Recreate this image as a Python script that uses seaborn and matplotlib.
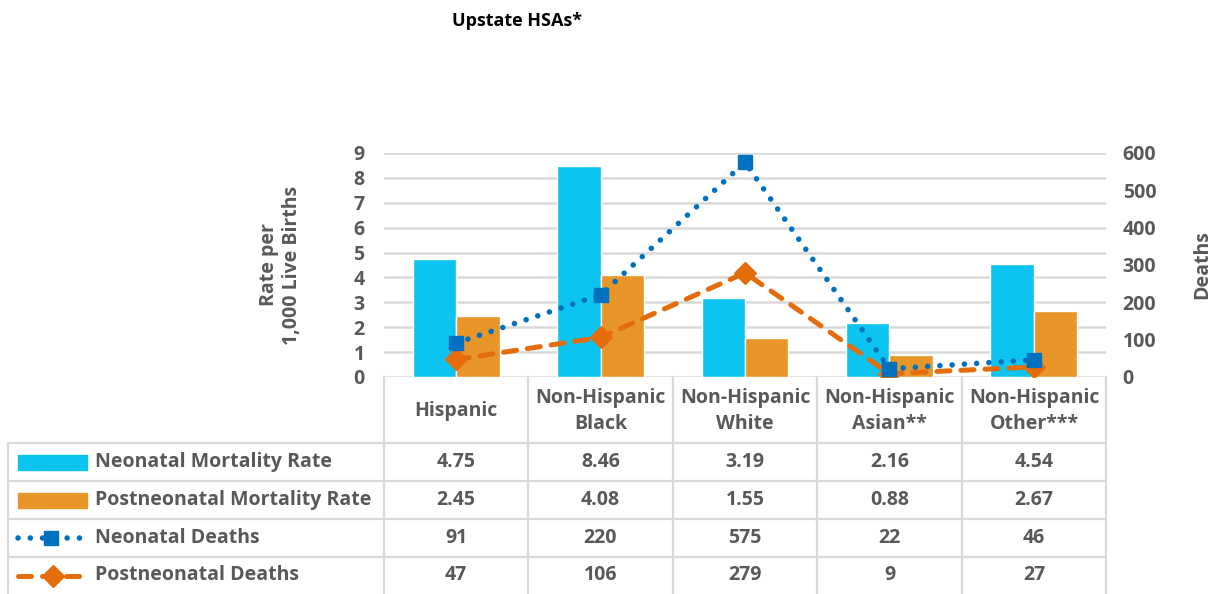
import numpy as np
import pandas as pd
import matplotlib
matplotlib.use("Agg")
import matplotlib.pyplot as plt
import seaborn as sns
from matplotlib.lines import Line2D
from matplotlib.patches import Rectangle

categories = ["Hispanic", "Non-Hispanic\nBlack", "Non-Hispanic\nWhite", "Non-Hispanic\nAsian**", "Non-Hispanic\nOther***"]
neonatal_rate = [4.75, 8.46, 3.19, 2.16, 4.54]
postneonatal_rate = [2.45, 4.08, 1.55, 0.88, 2.67]
neonatal_deaths = [91, 220, 575, 22, 46]
postneonatal_deaths = [47, 106, 279, 9, 27]
series_names = ["Neonatal Mortality Rate", "Postneonatal Mortality Rate", "Neonatal Deaths", "Postneonatal Deaths"]
left_ticks = list(range(0, 10))
right_ticks = list(range(0, 601, 100))

C_NEO = "#0DC3F0"
C_POST = "#E8962A"
C_NEO_L = "#0070C0"
C_POST_L = "#E46C0A"
GRID = "#D9D9D9"
TXT = "#595959"

sns.set_theme(style="white")
plt.rcParams['font.family'] = ['Open Sans', 'DejaVu Sans']

FS = 14

W, H = 1222, 594
fig = plt.figure(figsize=(W / 100, H / 100), dpi=100)

def fx(x):
    return x / W

def fy(y):
    return 1 - y / H

L, R, T, B = 384, 1106, 153, 377
ax = fig.add_axes([fx(L), fy(B), fx(R) - fx(L), fy(T) - fy(B)])

df = pd.DataFrame({
    "cat": categories * 2,
    "rate": neonatal_rate + postneonatal_rate,
    "series": [series_names[0]] * 5 + [series_names[1]] * 5,
})
sns.barplot(data=df, x="cat", y="rate", hue="series", palette=[C_NEO, C_POST],
            width=0.6, ax=ax, legend=False, saturation=1, zorder=2)
ax.set_xlim(-0.5, 4.5)
ax.set_ylim(0, 9)
ax.set_yticks(left_ticks)
ax.set_yticklabels([str(t) for t in left_ticks], fontsize=FS, fontweight="bold", color=TXT)
ax.tick_params(axis="y", length=0, pad=14)
ax.set_xticks([])
ax.set_xlabel("")
ax.set_ylabel("Rate per\n1,000 Live Births", fontsize=FS, fontweight="bold", color=TXT, labelpad=37,
              linespacing=1.2)
ax.yaxis.grid(True, color=GRID, linewidth=1.8, zorder=0)
ax.set_axisbelow(True)
for s in ax.spines.values():
    s.set_visible(False)

ax2 = ax.twinx()
x = np.arange(len(categories))
ax2.plot(x, neonatal_deaths, color=C_NEO_L, linewidth=4.0, linestyle=(0, (0.01, 2.2)),
         dash_capstyle="round", marker="s", markersize=10, zorder=4)
ax2.plot(x, postneonatal_deaths, color=C_POST_L, linewidth=3.6, linestyle=(0, (2.6, 2.2)),
         dash_capstyle="round", marker="D", markersize=11, zorder=3)
ax2.set_ylim(0, 600)
ax2.set_yticks(right_ticks)
ax2.set_yticklabels([str(t) for t in right_ticks], fontsize=FS, fontweight="bold", color=TXT)
ax2.tick_params(axis="y", length=0, pad=12)
ax2.set_ylabel("Deaths", fontsize=FS, fontweight="bold", color=TXT, labelpad=26)
for s in ax2.spines.values():
    s.set_visible(False)
ax2.grid(False)

fig.text(fx(517), fy(21), "Upstate HSAs*", ha="center", va="center", fontsize=13,
         fontweight="bold", color="black")

# data table
cols = [384, 528, 673, 817, 962, 1106]
rows = [443, 481, 519, 557, 594]
lw_t = 1.6
for cx in cols:
    fig.add_artist(Line2D([fx(cx), fx(cx)], [fy(377), fy(594)], color=GRID, linewidth=lw_t))
fig.add_artist(Line2D([fx(8), fx(8)], [fy(443), fy(594)], color=GRID, linewidth=lw_t))
for ry in rows[:-1]:
    fig.add_artist(Line2D([fx(8), fx(1106)], [fy(ry), fy(ry)], color=GRID, linewidth=lw_t))

for i, c in enumerate(categories):
    cxm = (cols[i] + cols[i + 1]) / 2
    fig.text(fx(cxm), fy(411), c, ha="center", va="center", fontsize=FS, fontweight="bold",
             color=TXT, linespacing=1.35)

table_vals = [neonatal_rate, postneonatal_rate, neonatal_deaths, postneonatal_deaths]
for r, vals in enumerate(table_vals):
    yc = (rows[r] + rows[r + 1]) / 2
    for i, v in enumerate(vals):
        cxm = (cols[i] + cols[i + 1]) / 2
        s = f"{v:.2f}" if isinstance(v, float) else str(v)
        fig.text(fx(cxm), fy(yc), s, ha="center", va="center", fontsize=FS, fontweight="bold", color=TXT)
    fig.text(fx(95), fy(yc), series_names[r], ha="left", va="center", fontsize=FS,
             fontweight="bold", color=TXT)

# legend keys
y0 = (rows[0] + rows[1]) / 2
fig.add_artist(Rectangle((fx(18), fy(y0 + 8)), fx(87) - fx(18), fy(y0 - 7) - fy(y0 + 8), color=C_NEO,
                         transform=fig.transFigure))
y1 = (rows[1] + rows[2]) / 2
fig.add_artist(Rectangle((fx(18), fy(y1 + 8)), fx(87) - fx(18), fy(y1 - 7) - fy(y1 + 8), color=C_POST,
                         transform=fig.transFigure))
y2 = (rows[2] + rows[3]) / 2
fig.add_artist(Line2D([fx(18), fx(84)], [fy(y2), fy(y2)], color=C_NEO_L, linewidth=4.0,
                      linestyle=(0, (0.01, 2.2)), dash_capstyle="round"))
fig.add_artist(Line2D([fx(51)], [fy(y2)], color=C_NEO_L, marker="s", markersize=10))
y3 = (rows[3] + rows[4]) / 2
fig.add_artist(Line2D([fx(18), fx(88)], [fy(y3), fy(y3)], color=C_POST_L, linewidth=3.6,
                      linestyle=(0, (2.6, 2.2)), dash_capstyle="round"))
fig.add_artist(Line2D([fx(53)], [fy(y3)], color=C_POST_L, marker="D", markersize=11))

fig.savefig("out.png", dpi=100)
